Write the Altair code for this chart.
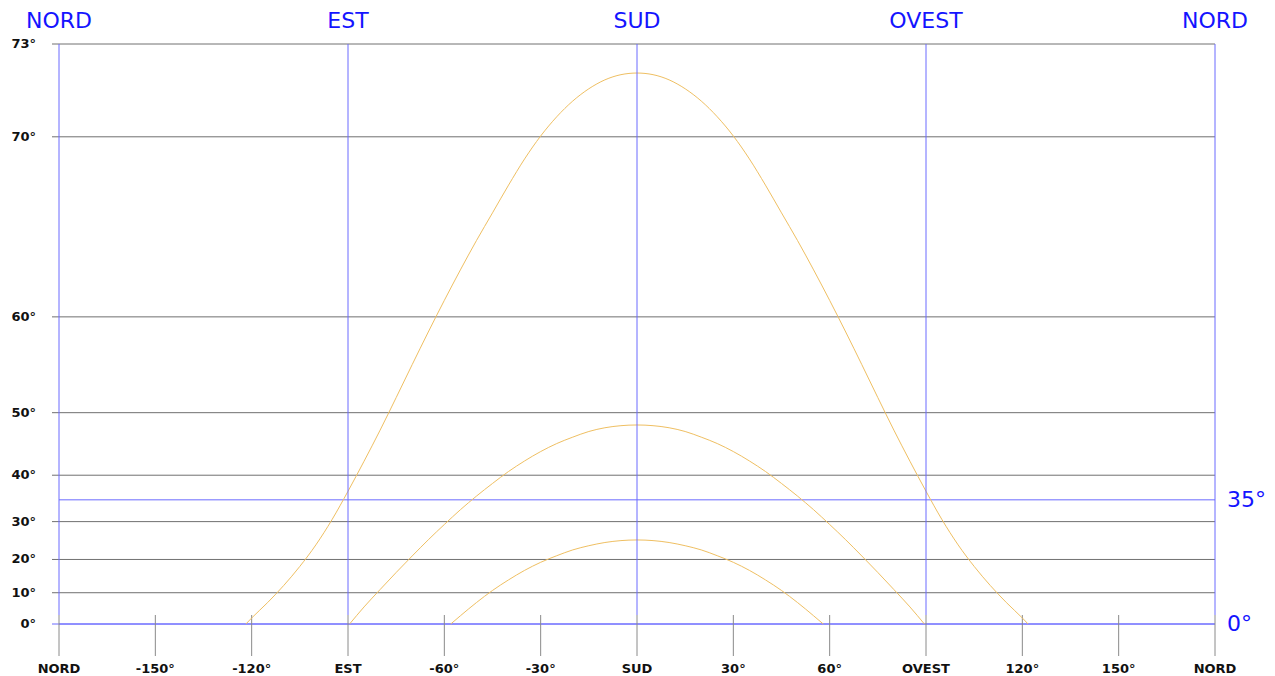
import math
import altair as alt
import pandas as pd

# ---------------- data ----------------
tick_az = [-180, -150, -120, -90, -60, -30, 0, 30, 60, 90, 120, 150, 180]
tick_labels = ["NORD", "-150°", "-120°", "EST", "-60°", "-30°", "SUD",
               "30°", "60°", "OVEST", "120°", "150°", "NORD"]

compass_az = [-180, -90, 0, 90, 180]
compass_names = ["NORD", "EST", "SUD", "OVEST", "NORD"]

left_alt = [0, 10, 20, 30, 40, 50, 60, 70, 73]
left_labels = ["0°", "10°", "20°", "30°", "40°", "50°", "60°", "70°", "73°"]

ref_alt = [0, 35]
ref_labels = ["0°", "35°"]

summer_az = [-121.8, -120, -115, -110, -105, -100, -95, -90, -85, -80, -75, -70, -65,
             -60, -55, -50, -45, -40, -35, -30, -25, -20, -15, -10, -5, 0,
             5, 10, 15, 20, 25, 30, 35, 40, 45, 50, 55, 60,
             65, 70, 75, 80, 85, 90, 95, 100, 105, 110, 115, 120, 121.8]
summer_alt = [0, 1.94, 6.93, 12.27, 18.0, 24.05, 30.45, 36.82, 42.55, 47.55, 51.93, 55.65, 58.73,
              61.28, 63.40, 65.18, 66.67, 68.0, 69.13, 70.03, 70.73, 71.27, 71.67, 71.95, 72.11, 72.16,
              72.11, 71.95, 71.67, 71.27, 70.73, 70.03, 69.13, 68.0, 66.67, 65.18, 63.40, 61.28,
              58.73, 55.65, 51.93, 47.55, 42.55, 36.82, 30.45, 24.05, 18.0, 12.27, 6.93, 1.94, 0]

equinox_az = [-89.5, -85, -80, -75, -70, -65, -60, -55, -50, -45, -40, -35, -30,
              -25, -20, -15, -10, -5, 0,
              5, 10, 15, 20, 25, 30, 35, 40, 45, 50, 55, 60, 65, 70, 75, 80, 85, 89.5]
equinox_alt = [0, 5.5, 11.0, 16.2, 21.0, 25.4, 29.3, 32.8, 35.8, 38.4, 40.7, 42.6, 44.2,
               45.5, 46.5, 47.35, 47.9, 48.2, 48.3,
               48.2, 47.9, 47.35, 46.5, 45.5, 44.2, 42.6, 40.7, 38.4, 35.8, 32.8, 29.3,
               25.4, 21.0, 16.2, 11.0, 5.5, 0]

winter_az = [-58, -55, -50, -45, -40, -35, -30, -25, -20, -15, -10, -5, 0,
             5, 10, 15, 20, 25, 30, 35, 40, 45, 50, 55, 58]
winter_alt = [0, 2.65, 6.89, 10.71, 13.97, 16.83, 19.18, 21.06, 22.68, 23.82, 24.68, 25.19, 25.36,
              25.19, 24.68, 23.82, 22.68, 21.06, 19.18, 16.83, 13.97, 10.71, 6.89, 2.65, 0]

# ---------------- layout / style ----------------
W, H = 1156, 580
BLUE_LINE = "#6b6bff"
BLUE_TEXT = "#1414ff"
GRID = "#707070"
TICK = "#8a8a8a"
SUN = "#efbf62"
FONT = "DejaVu Sans"

xscale = alt.Scale(domain=[-180, 180], nice=False, zero=False)
yscale = alt.Scale(domain=[0, math.tan(math.radians(73))], nice=False, zero=False)


def ycalc(ch):
    return ch.transform_calculate(ty="tan(datum.alt * PI / 180)")


Y = alt.Y("ty:Q", scale=yscale, axis=None)
X = alt.X("az:Q", scale=xscale, axis=None)

grid = ycalc(alt.Chart(pd.DataFrame({"alt": left_alt})).mark_rule(strokeWidth=1)).encode(
    y=Y, x=alt.value(-7), x2=alt.value(W),
    color=alt.condition("datum.alt == 0", alt.value(BLUE_LINE), alt.value(GRID)),
)

ref = ycalc(alt.Chart(pd.DataFrame({"alt": ref_alt, "label": ref_labels})).mark_rule(
    color=BLUE_LINE, strokeWidth=1)).encode(y=Y, x=alt.value(0), x2=alt.value(W))

ticks = alt.Chart(pd.DataFrame({"az": tick_az})).mark_rule(
    color=TICK, strokeWidth=1).encode(x=X, y=alt.value(H - 9), y2=alt.value(H + 32))

verticals = alt.Chart(pd.DataFrame({"az": compass_az})).mark_rule(
    color=BLUE_LINE, strokeWidth=1).encode(x=X, y=alt.value(0), y2=alt.value(H - 9))

curves_df = pd.concat([
    pd.DataFrame({"az": summer_az, "alt": summer_alt, "season": "estate"}),
    pd.DataFrame({"az": equinox_az, "alt": equinox_alt, "season": "equinozio"}),
    pd.DataFrame({"az": winter_az, "alt": winter_alt, "season": "inverno"}),
], ignore_index=True)
curves = ycalc(alt.Chart(curves_df).mark_line(
    color=SUN, strokeWidth=1, interpolate="monotone")).encode(
    x=X, y=Y, detail="season:N")

top_text = alt.Chart(pd.DataFrame({"az": compass_az, "name": compass_names})).mark_text(
    font=FONT, fontSize=22, color=BLUE_TEXT, align="center", baseline="middle").encode(
    x=X, y=alt.value(-23), text="name:N")

bottom_text = alt.Chart(pd.DataFrame({"az": tick_az, "label": tick_labels})).mark_text(
    font=FONT, fontSize=13, fontWeight="bold", color="#111111",
    align="center", baseline="middle").encode(x=X, y=alt.value(H + 45), text="label:N")

left_text = ycalc(alt.Chart(pd.DataFrame({"alt": left_alt, "label": left_labels})).mark_text(
    font=FONT, fontSize=13, fontWeight="bold", color="#111111",
    align="right", baseline="middle")).encode(y=Y, x=alt.value(-23), text="label:N")

right_text = ycalc(alt.Chart(pd.DataFrame({"alt": ref_alt, "label": ref_labels})).mark_text(
    font=FONT, fontSize=22, color=BLUE_TEXT, align="left", baseline="middle")).encode(
    y=Y, x=alt.value(W + 12), text="label:N")

chart = alt.layer(
    grid, ref, ticks, curves, verticals,
    top_text, bottom_text, left_text, right_text,
).properties(
    width=W, height=H,
    autosize=alt.AutoSizeParams(type="none"),
    padding={"left": 51, "top": 36, "right": 52, "bottom": 52},
    background="white",
).configure_view(stroke=None)

chart.save("out.html", embed_options={"renderer": "svg", "actions": False})
